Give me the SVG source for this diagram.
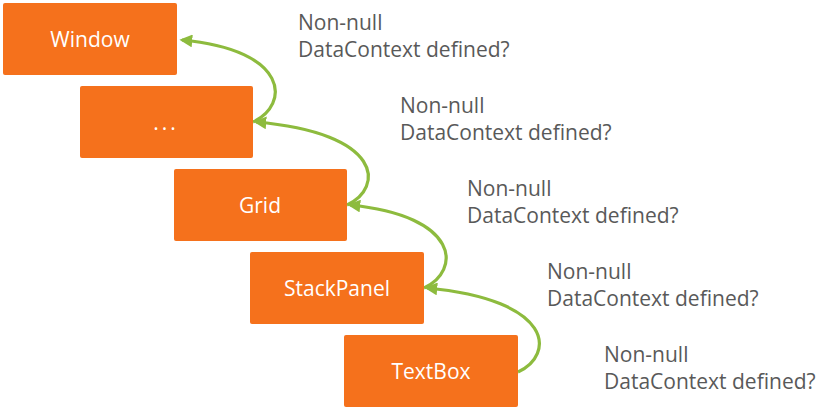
<svg xmlns="http://www.w3.org/2000/svg" width="826" height="411" viewBox="0 0 826 411">
<style>
.box{fill:#F5711C}
.lbl{font-family:"Open Sans","Noto Sans",sans-serif;font-size:21px;fill:#FFFFFF;text-anchor:middle}
.q{font-family:"Open Sans","Noto Sans",sans-serif;font-size:21px;fill:#595959}
.arr{fill:none;stroke:#8DBB3E;stroke-width:3.2;marker-end:url(#ah)}
</style>
<defs>
<marker id="ah" viewBox="0 0 10 10" refX="8" refY="5" markerWidth="4" markerHeight="4" orient="auto" markerUnits="strokeWidth">
<path d="M0,0 L10,5 L0,10 z" fill="#8DBB3E"/>
</marker>
</defs>
<rect width="826" height="411" fill="#FFFFFF"/>
<g id="connectors">
<path class="arr" d="M253,122 C290,105 290,50 182,40"/>
<path class="arr" d="M347,205 C384,188 384,133 256,122"/>
<path class="arr" d="M424,288 C461,271 461,216 350,205"/>
<path class="arr" d="M518,372 C555,355 555,300 427,288"/>
</g>
<g id="n-window"><rect class="box" x="3" y="3" width="174" height="72" rx="2"/><text class="lbl" x="90" y="47">Window</text></g>
<g id="n-dots"><rect class="box" x="80" y="86" width="173" height="72" rx="2"/><text class="lbl" x="166" y="130" letter-spacing="3">...</text></g>
<g id="n-grid"><rect class="box" x="174" y="169" width="173" height="72" rx="2"/><text class="lbl" x="260" y="213">Grid</text></g>
<g id="n-stackpanel"><rect class="box" x="250" y="252" width="174" height="72" rx="2"/><text class="lbl" x="337" y="296">StackPanel</text></g>
<g id="n-textbox"><rect class="box" x="344" y="335" width="174" height="72" rx="2"/><text class="lbl" x="431" y="379">TextBox</text></g>
<g id="q1"><text class="q" x="298" y="30">Non-null</text><text class="q" x="298" y="57">DataContext defined?</text></g>
<g id="q2"><text class="q" x="400" y="113">Non-null</text><text class="q" x="400" y="140">DataContext defined?</text></g>
<g id="q3"><text class="q" x="467" y="196">Non-null</text><text class="q" x="467" y="223">DataContext defined?</text></g>
<g id="q4"><text class="q" x="547" y="279">Non-null</text><text class="q" x="547" y="306">DataContext defined?</text></g>
<g id="q5"><text class="q" x="604" y="362">Non-null</text><text class="q" x="604" y="389">DataContext defined?</text></g>
</svg>
